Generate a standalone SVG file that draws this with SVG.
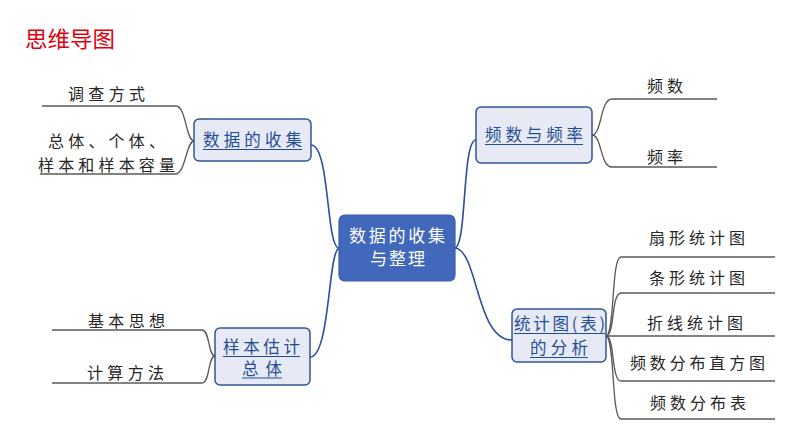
<svg xmlns="http://www.w3.org/2000/svg" width="794" height="447" viewBox="0 0 794 447">
<style>
text{font-family:"Noto Sans CJK SC","Noto Sans",sans-serif;}
.leaf{font-size:16px;fill:#262626;}
.node rect{fill:#E7EAF4;stroke:#2F5597;stroke-width:1.5;}
.ntext{font-size:16.5px;fill:#1F4E96;}
.ul{stroke:#1F4E96;stroke-width:1.2;}
.blue{fill:none;stroke:#2A4F9E;stroke-width:1.6;}
.gray{fill:none;stroke:#595959;stroke-width:1.3;}
</style>
<rect width="794" height="447" fill="#fff"/>
<text x="25" y="47" font-size="22" fill="#E0000E" textLength="90" lengthAdjust="spacingAndGlyphs">思维导图</text>
<g id="connectors">
<path class="blue" d="M311,145 C330,145 326,248 339,248"/>
<path class="blue" d="M339,248 C328,252 330,357 310,357"/>
<path class="blue" d="M455,248 C467,245 462,140 476,140"/>
<path class="blue" d="M455,248 C478,250 476,340 512,340"/>
<path class="gray" d="M42,106 H176 C186,106 186,141 194,141"/>
<path class="gray" d="M40,174 H175 C186,174 186,141 194,141"/>
<path class="gray" d="M592,135 C602,135 600,99 612,99 H717"/>
<path class="gray" d="M592,135 C602,135 600,167 612,167 H717"/>
<path class="gray" d="M606,336 C615,336 611,257 621,257 H775"/>
<path class="gray" d="M606,336 C615,336 611,293 621,293 H775"/>
<path class="gray" d="M606,336 H775"/>
<path class="gray" d="M606,336 C615,336 611,381 621,381 H775"/>
<path class="gray" d="M606,336 C615,336 611,419 621,419 H775"/>
<path class="gray" d="M52,330 H202 C210,330 208,356 215,356"/>
<path class="gray" d="M52,383 H202 C210,383 208,356 215,356"/>
</g>
<g id="center">
<rect x="339" y="215" width="116" height="66" rx="6" fill="#4168BA" stroke="#3A5CA8" stroke-width="1.2"/>
<text x="349" y="242" font-size="17" fill="#fff" textLength="96" lengthAdjust="spacing">数据的收集</text>
<text x="370" y="265" font-size="17" fill="#fff" textLength="55" lengthAdjust="spacing">与整理</text>
</g>
<g id="n1" class="node">
<rect x="194" y="119" width="117" height="42" rx="5"/>
<text class="ntext" x="203" y="146" textLength="99" lengthAdjust="spacing">数据的收集</text>
<line class="ul" x1="203" y1="149.5" x2="302" y2="149.5"/>
</g>
<g id="n2" class="node">
<rect x="476" y="107" width="116" height="56" rx="5"/>
<text class="ntext" x="485" y="141" textLength="98" lengthAdjust="spacing">频数与频率</text>
<line class="ul" x1="485" y1="144.5" x2="583" y2="144.5"/>
</g>
<g id="n3" class="node">
<rect x="512" y="309" width="94" height="53" rx="5"/>
<text class="ntext" x="514" y="330" textLength="91" lengthAdjust="spacing">统计图(表)</text>
<line class="ul" x1="514" y1="333.5" x2="605" y2="333.5"/>
<text class="ntext" x="530" y="354" textLength="58" lengthAdjust="spacing">的分析</text>
<line class="ul" x1="530" y1="357.5" x2="588" y2="357.5"/>
</g>
<g id="n4" class="node">
<rect x="215" y="328" width="95" height="57" rx="5"/>
<text class="ntext" x="223" y="353" textLength="77" lengthAdjust="spacing">样本估计</text>
<line class="ul" x1="223" y1="356.5" x2="300" y2="356.5"/>
<text class="ntext" x="242" y="375" textLength="40" lengthAdjust="spacing">总体</text>
<line class="ul" x1="242" y1="378" x2="282" y2="378"/>
</g>
<g id="leaf-l1"><text class="leaf" x="68" y="100" textLength="77" lengthAdjust="spacing">调查方式</text></g>
<g id="leaf-l2">
<text class="leaf" x="48" y="147" font-size="15.5" textLength="117" lengthAdjust="spacing">总体、个体、</text>
<text class="leaf" x="38" y="171" textLength="137" lengthAdjust="spacing">样本和样本容量</text>
</g>
<g id="leaf-r1"><text class="leaf" x="647" y="92" textLength="36" lengthAdjust="spacing">频数</text></g>
<g id="leaf-r2"><text class="leaf" x="647" y="163" textLength="36" lengthAdjust="spacing">频率</text></g>
<g id="leaf-r3"><text class="leaf" x="649" y="244" textLength="96" lengthAdjust="spacing">扇形统计图</text></g>
<g id="leaf-r4"><text class="leaf" x="649" y="284" textLength="96" lengthAdjust="spacing">条形统计图</text></g>
<g id="leaf-r5"><text class="leaf" x="647" y="329" textLength="96" lengthAdjust="spacing">折线统计图</text></g>
<g id="leaf-r6"><text class="leaf" x="630" y="369" textLength="135" lengthAdjust="spacing">频数分布直方图</text></g>
<g id="leaf-r7"><text class="leaf" x="650" y="409" textLength="96" lengthAdjust="spacing">频数分布表</text></g>
<g id="leaf-b1"><text class="leaf" x="88" y="327" textLength="77" lengthAdjust="spacing">基本思想</text></g>
<g id="leaf-b2"><text class="leaf" x="87" y="379" textLength="77" lengthAdjust="spacing">计算方法</text></g>
</svg>
